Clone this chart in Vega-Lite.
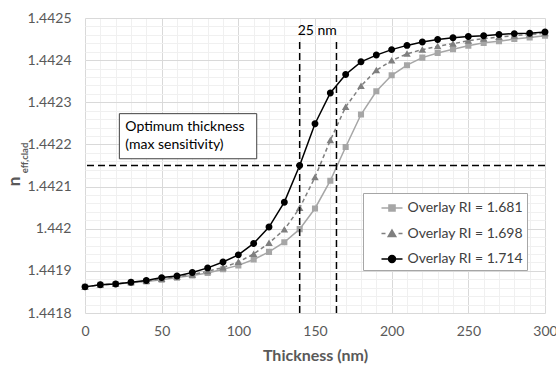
{
  "$schema": "https://vega.github.io/schema/vega-lite/v6.json",
  "width": 460,
  "height": 295,
  "autosize": {"type": "none"},
  "padding": {"left": 85, "top": 18, "right": 11, "bottom": 54},
  "background": "white",
  "config": {
    "view": {"stroke": null},
    "font": "Lato",
    "axis": {"labelFont": "Lato", "labelFontSize": 14, "labelColor": "#595959", "titleFont": "Lato", "titleColor": "#595959"},
    "legend": {"orient": "none", "legendX": 278, "legendY": 175,
      "padding": 3.5, "rowPadding": 6.5, "symbolSize": 441, "symbolStrokeWidth": 1.5,
      "symbolOffset": 14, "labelOffset": 4, "labelFont": "Lato", "labelFontSize": 14, "labelColor": "#404040",
      "strokeColor": "#A6A6A6", "fillColor": "white", "cornerRadius": 0}
  },
  "data": {"values": [
    {"t": 0, "n": 1.441862, "s": "Overlay RI = 1.681"},
    {"t": 10, "n": 1.441867, "s": "Overlay RI = 1.681"},
    {"t": 20, "n": 1.441869, "s": "Overlay RI = 1.681"},
    {"t": 30, "n": 1.441872, "s": "Overlay RI = 1.681"},
    {"t": 40, "n": 1.441875, "s": "Overlay RI = 1.681"},
    {"t": 50, "n": 1.441879, "s": "Overlay RI = 1.681"},
    {"t": 60, "n": 1.441884, "s": "Overlay RI = 1.681"},
    {"t": 70, "n": 1.441889, "s": "Overlay RI = 1.681"},
    {"t": 80, "n": 1.441895, "s": "Overlay RI = 1.681"},
    {"t": 90, "n": 1.441904, "s": "Overlay RI = 1.681"},
    {"t": 100, "n": 1.441913, "s": "Overlay RI = 1.681"},
    {"t": 110, "n": 1.441927, "s": "Overlay RI = 1.681"},
    {"t": 120, "n": 1.441945, "s": "Overlay RI = 1.681"},
    {"t": 130, "n": 1.441968, "s": "Overlay RI = 1.681"},
    {"t": 140, "n": 1.441999, "s": "Overlay RI = 1.681"},
    {"t": 150, "n": 1.442048, "s": "Overlay RI = 1.681"},
    {"t": 160, "n": 1.442114, "s": "Overlay RI = 1.681"},
    {"t": 170, "n": 1.442194, "s": "Overlay RI = 1.681"},
    {"t": 180, "n": 1.442271, "s": "Overlay RI = 1.681"},
    {"t": 190, "n": 1.442326, "s": "Overlay RI = 1.681"},
    {"t": 200, "n": 1.442364, "s": "Overlay RI = 1.681"},
    {"t": 210, "n": 1.442388, "s": "Overlay RI = 1.681"},
    {"t": 220, "n": 1.442406, "s": "Overlay RI = 1.681"},
    {"t": 230, "n": 1.442417, "s": "Overlay RI = 1.681"},
    {"t": 240, "n": 1.442426, "s": "Overlay RI = 1.681"},
    {"t": 250, "n": 1.442434, "s": "Overlay RI = 1.681"},
    {"t": 260, "n": 1.442441, "s": "Overlay RI = 1.681"},
    {"t": 270, "n": 1.442445, "s": "Overlay RI = 1.681"},
    {"t": 280, "n": 1.44245, "s": "Overlay RI = 1.681"},
    {"t": 290, "n": 1.442454, "s": "Overlay RI = 1.681"},
    {"t": 300, "n": 1.442458, "s": "Overlay RI = 1.681"},
    {"t": 0, "n": 1.441862, "s": "Overlay RI = 1.698"},
    {"t": 10, "n": 1.441867, "s": "Overlay RI = 1.698"},
    {"t": 20, "n": 1.441869, "s": "Overlay RI = 1.698"},
    {"t": 30, "n": 1.441873, "s": "Overlay RI = 1.698"},
    {"t": 40, "n": 1.441876, "s": "Overlay RI = 1.698"},
    {"t": 50, "n": 1.441881, "s": "Overlay RI = 1.698"},
    {"t": 60, "n": 1.441886, "s": "Overlay RI = 1.698"},
    {"t": 70, "n": 1.441891, "s": "Overlay RI = 1.698"},
    {"t": 80, "n": 1.441899, "s": "Overlay RI = 1.698"},
    {"t": 90, "n": 1.441908, "s": "Overlay RI = 1.698"},
    {"t": 100, "n": 1.441921, "s": "Overlay RI = 1.698"},
    {"t": 110, "n": 1.44194, "s": "Overlay RI = 1.698"},
    {"t": 120, "n": 1.441966, "s": "Overlay RI = 1.698"},
    {"t": 130, "n": 1.441998, "s": "Overlay RI = 1.698"},
    {"t": 140, "n": 1.442049, "s": "Overlay RI = 1.698"},
    {"t": 150, "n": 1.442122, "s": "Overlay RI = 1.698"},
    {"t": 160, "n": 1.44221, "s": "Overlay RI = 1.698"},
    {"t": 170, "n": 1.442289, "s": "Overlay RI = 1.698"},
    {"t": 180, "n": 1.442339, "s": "Overlay RI = 1.698"},
    {"t": 190, "n": 1.442376, "s": "Overlay RI = 1.698"},
    {"t": 200, "n": 1.442399, "s": "Overlay RI = 1.698"},
    {"t": 210, "n": 1.442415, "s": "Overlay RI = 1.698"},
    {"t": 220, "n": 1.442425, "s": "Overlay RI = 1.698"},
    {"t": 230, "n": 1.442433, "s": "Overlay RI = 1.698"},
    {"t": 240, "n": 1.442439, "s": "Overlay RI = 1.698"},
    {"t": 250, "n": 1.442446, "s": "Overlay RI = 1.698"},
    {"t": 260, "n": 1.442451, "s": "Overlay RI = 1.698"},
    {"t": 270, "n": 1.442455, "s": "Overlay RI = 1.698"},
    {"t": 280, "n": 1.442458, "s": "Overlay RI = 1.698"},
    {"t": 290, "n": 1.442461, "s": "Overlay RI = 1.698"},
    {"t": 300, "n": 1.442464, "s": "Overlay RI = 1.698"},
    {"t": 0, "n": 1.441862, "s": "Overlay RI = 1.714"},
    {"t": 10, "n": 1.441867, "s": "Overlay RI = 1.714"},
    {"t": 20, "n": 1.441869, "s": "Overlay RI = 1.714"},
    {"t": 30, "n": 1.441873, "s": "Overlay RI = 1.714"},
    {"t": 40, "n": 1.441877, "s": "Overlay RI = 1.714"},
    {"t": 50, "n": 1.441884, "s": "Overlay RI = 1.714"},
    {"t": 60, "n": 1.441888, "s": "Overlay RI = 1.714"},
    {"t": 70, "n": 1.441896, "s": "Overlay RI = 1.714"},
    {"t": 80, "n": 1.441907, "s": "Overlay RI = 1.714"},
    {"t": 90, "n": 1.441921, "s": "Overlay RI = 1.714"},
    {"t": 100, "n": 1.441938, "s": "Overlay RI = 1.714"},
    {"t": 110, "n": 1.441965, "s": "Overlay RI = 1.714"},
    {"t": 120, "n": 1.442004, "s": "Overlay RI = 1.714"},
    {"t": 130, "n": 1.442063, "s": "Overlay RI = 1.714"},
    {"t": 140, "n": 1.44215, "s": "Overlay RI = 1.714"},
    {"t": 150, "n": 1.442249, "s": "Overlay RI = 1.714"},
    {"t": 160, "n": 1.442322, "s": "Overlay RI = 1.714"},
    {"t": 170, "n": 1.442366, "s": "Overlay RI = 1.714"},
    {"t": 180, "n": 1.442396, "s": "Overlay RI = 1.714"},
    {"t": 190, "n": 1.442412, "s": "Overlay RI = 1.714"},
    {"t": 200, "n": 1.442425, "s": "Overlay RI = 1.714"},
    {"t": 210, "n": 1.442435, "s": "Overlay RI = 1.714"},
    {"t": 220, "n": 1.442443, "s": "Overlay RI = 1.714"},
    {"t": 230, "n": 1.442449, "s": "Overlay RI = 1.714"},
    {"t": 240, "n": 1.442453, "s": "Overlay RI = 1.714"},
    {"t": 250, "n": 1.442456, "s": "Overlay RI = 1.714"},
    {"t": 260, "n": 1.442458, "s": "Overlay RI = 1.714"},
    {"t": 270, "n": 1.442461, "s": "Overlay RI = 1.714"},
    {"t": 280, "n": 1.442463, "s": "Overlay RI = 1.714"},
    {"t": 290, "n": 1.442464, "s": "Overlay RI = 1.714"},
    {"t": 300, "n": 1.442467, "s": "Overlay RI = 1.714"}
  ]},
  "layer": [
    {
      "mark": {"type": "point", "opacity": 0},
      "encoding": {
        "x": {"field": "t", "type": "quantitative", "scale": {"domain": [0, 300], "nice": false, "zero": false},
          "axis": {"orient": "bottom", "grid": true, "gridColor": "#F0F0F0", "gridWidth": 1, "labels": false, "ticks": false, "domain": false, "title": null,
            "values": [0,10,20,30,40,50,60,70,80,90,100,110,120,130,140,150,160,170,180,190,200,210,220,230,240,250,260,270,280,290,300]}},
        "y": {"field": "n", "type": "quantitative", "scale": {"domain": [1.4418, 1.4425], "nice": false, "zero": false},
          "axis": {"orient": "left", "grid": true, "gridColor": "#F0F0F0", "gridWidth": 1, "labels": false, "ticks": false, "domain": false,
            "values": [1.4418,1.44182,1.44184,1.44186,1.44188,1.4419,1.44192,1.44194,1.44196,1.44198,1.442,1.44202,1.44204,1.44206,1.44208,1.4421,1.44212,1.44214,1.44216,1.44218,1.4422,1.44222,1.44224,1.44226,1.44228,1.4423,1.44232,1.44234,1.44236,1.44238,1.4424,1.44242,1.44244,1.44246,1.44248,1.4425],
            "title": "eff,clad", "titleX": -57.5, "titleY": 139.5, "titleAngle": -90, "titleAlign": "center", "titleBaseline": "alphabetic",
            "titleFontSize": 9.5, "titleFontWeight": "bold", "titleColor": "#595959"}}
      }
    },
    {
      "transform": [{"filter": "datum.s == 'Overlay RI = 1.681'"}],
      "mark": {"type": "line", "strokeWidth": 1.5, "color": "#A6A6A6"},
      "encoding": {
        "x": {"field": "t", "type": "quantitative",
          "axis": {"orient": "bottom", "grid": true, "gridColor": "#D9D9D9", "gridWidth": 1, "ticks": false, "domain": false,
            "values": [0, 50, 100, 150, 200, 250, 300], "labelFlush": false, "labelPadding": 22.7, "labelBaseline": "alphabetic",
            "title": "Thickness (nm)", "titleFontSize": 16, "titleFontWeight": "bold", "titleY": 47.7, "titleBaseline": "alphabetic"}},
        "y": {"field": "n", "type": "quantitative",
          "axis": {"orient": "left", "grid": true, "gridColor": "#D9D9D9", "gridWidth": 1, "ticks": false, "domain": false,
            "values": [1.4418, 1.4419, 1.442, 1.4421, 1.4422, 1.4423, 1.4424, 1.4425], "format": ".4~f", "labelPadding": 14,
            "title": "n", "titleX": -66, "titleY": 163, "titleAngle": -90, "titleAlign": "center", "titleBaseline": "alphabetic",
            "titleFontSize": 17, "titleFontWeight": "bold"}}
      }
    },
    {
      "transform": [{"filter": "datum.s == 'Overlay RI = 1.698'"}],
      "mark": {"type": "line", "strokeWidth": 1.5, "color": "#7F7F7F", "strokeDash": [4, 3]},
      "encoding": {
        "x": {"field": "t", "type": "quantitative", "axis": null},
        "y": {"field": "n", "type": "quantitative", "axis": null}
      }
    },
    {
      "transform": [{"filter": "datum.s == 'Overlay RI = 1.714'"}],
      "mark": {"type": "line", "strokeWidth": 1.5, "color": "#000000"},
      "encoding": {
        "x": {"field": "t", "type": "quantitative", "axis": null},
        "y": {"field": "n", "type": "quantitative", "axis": null}
      }
    },
    {
      "mark": {"type": "point", "filled": true, "size": 441, "opacity": 1},
      "encoding": {
        "x": {"field": "t", "type": "quantitative", "axis": null},
        "y": {"field": "n", "type": "quantitative", "axis": null},
        "color": {"field": "s", "type": "nominal",
          "scale": {"domain": ["Overlay RI = 1.681", "Overlay RI = 1.698", "Overlay RI = 1.714"], "range": ["#A6A6A6", "#7F7F7F", "#000000"]},
          "legend": {"title": null, "labelExpr": "datum.label + '            '"}},
        "stroke": {"field": "s", "type": "nominal",
          "scale": {"domain": ["Overlay RI = 1.681", "Overlay RI = 1.698", "Overlay RI = 1.714"], "range": ["#A6A6A6", "#7F7F7F", "#000000"]},
          "legend": {"title": null, "labelExpr": "datum.label + '            '"}},
        "shape": {"field": "s", "type": "nominal",
          "scale": {"domain": ["Overlay RI = 1.681", "Overlay RI = 1.698", "Overlay RI = 1.714"],
            "range": ["M-1,0H1M-0.29,-0.29H0.29V0.29H-0.29Z", "M-1,0H-0.62M0.62,0H1M0,-0.33L0.36,0.29H-0.36Z", "M-1,0H1M0.33,0A0.33,0.33,0,1,1,-0.33,0A0.33,0.33,0,1,1,0.33,0Z"]},
          "legend": {"title": null, "labelExpr": "datum.label + '            '"}},
        "strokeWidth": {"value": 0}
      }
    },
    {
      "data": {"values": [{"n": 1.44215}]},
      "mark": {"type": "rule", "color": "#000000", "strokeWidth": 1.5, "strokeDash": [7, 4]},
      "encoding": {"y": {"field": "n", "type": "quantitative", "axis": null}}
    },
    {
      "data": {"values": [{"t": 140}, {"t": 164}]},
      "mark": {"type": "rule", "color": "#000000", "strokeWidth": 1.5, "strokeDash": [7, 4]},
      "encoding": {
        "x": {"field": "t", "type": "quantitative", "axis": null},
        "y": {"datum": 1.4418, "type": "quantitative", "axis": null},
        "y2": {"datum": 1.44245}
      }
    },
    {
      "data": {"values": [{}]},
      "mark": {"type": "text", "font": "Lato", "fontSize": 14, "color": "#000000", "align": "center", "baseline": "alphabetic"},
      "encoding": {
        "x": {"datum": 151.5, "type": "quantitative", "axis": null},
        "y": {"datum": 1.44246, "type": "quantitative", "axis": null},
        "text": {"value": "25 nm"}
      }
    },
    {
      "data": {"values": [{}]},
      "mark": {"type": "rect", "fill": "white", "stroke": "#404040", "strokeWidth": 1},
      "encoding": {
        "x": {"datum": 22.4, "type": "quantitative", "axis": null},
        "x2": {"datum": 112},
        "y": {"datum": 1.442273, "type": "quantitative", "axis": null},
        "y2": {"datum": 1.442166}
      }
    },
    {
      "data": {"values": [{}]},
      "mark": {"type": "text", "font": "Lato", "fontSize": 14, "color": "#000000", "align": "left", "baseline": "alphabetic", "lineHeight": 18},
      "encoding": {
        "x": {"datum": 26.3, "type": "quantitative", "axis": null},
        "y": {"datum": 1.442233, "type": "quantitative", "axis": null},
        "text": {"value": ["Optimum thickness", "(max sensitivity)"]}
      }
    }
  ],
  "resolve": {"axis": {"x": "independent", "y": "independent"}}
}
